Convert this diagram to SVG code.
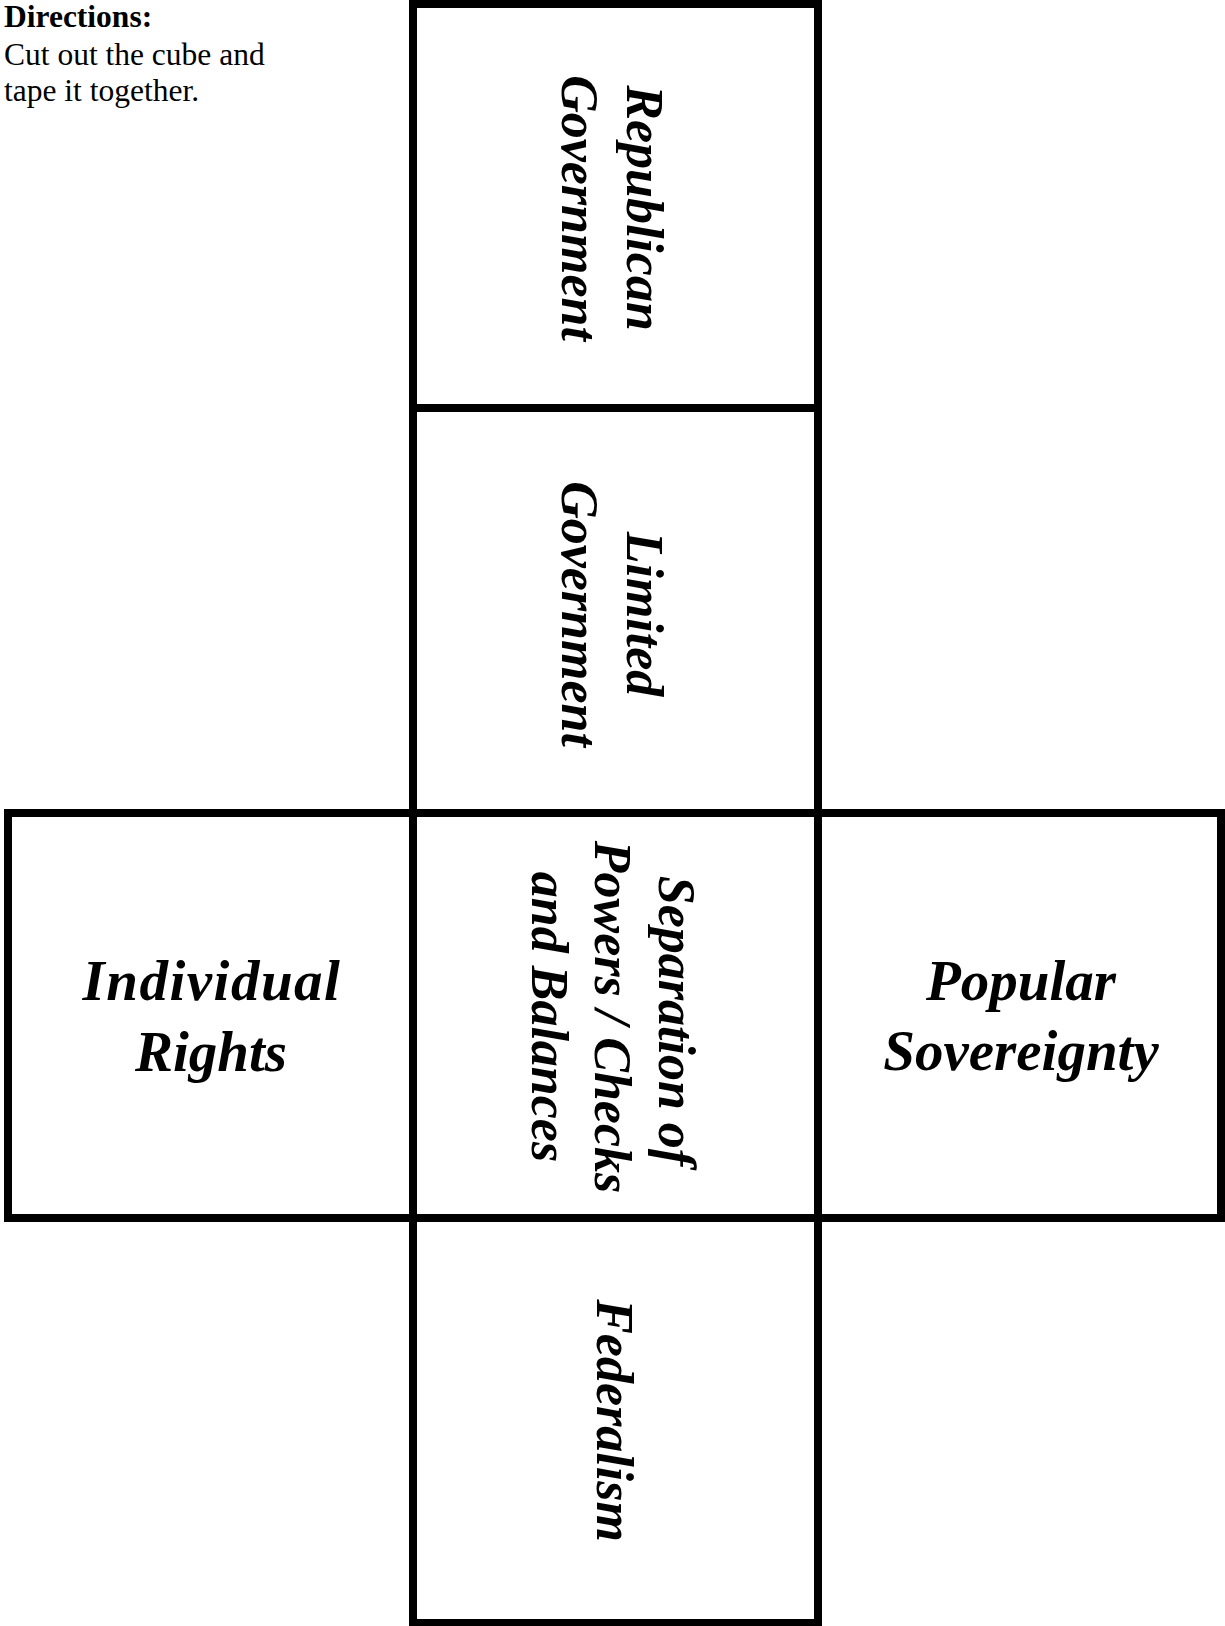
<svg xmlns="http://www.w3.org/2000/svg" width="1225" height="1626" viewBox="0 0 1225 1626">
  <style>
    .face { fill: #ffffff; stroke: #000000; stroke-width: 8; }
    .lbl { font-family: "Liberation Serif", "Times New Roman", serif; font-weight: bold; font-style: italic; fill: #000000; text-anchor: middle; }
    .v { font-size: 52px; }
    .h { font-size: 57px; }
    .dir { font-family: "Liberation Serif", "Times New Roman", serif; font-size: 31.5px; fill: #000000; }
  </style>
  <rect x="0" y="0" width="1225" height="1626" fill="#ffffff"/>

  <g id="directions">
    <text class="dir" x="4" y="27" font-weight="bold">Directions:</text>
    <text class="dir" x="4" y="64.5">Cut out the cube and</text>
    <text class="dir" x="4" y="101">tape it together.</text>
  </g>

  <g id="face-republican">
    <rect class="face" x="413" y="4" width="405" height="404"/>
    <g transform="translate(615.5 208) rotate(90)">
      <text class="lbl v" x="0" y="-11.5">Republican</text>
      <text class="lbl v" x="0" y="53.5">Government</text>
    </g>
  </g>

  <g id="face-limited">
    <rect class="face" x="413" y="408" width="405" height="405"/>
    <g transform="translate(615.5 614) rotate(90)">
      <text class="lbl v" x="0" y="-11.5">Limited</text>
      <text class="lbl v" x="0" y="53.5">Government</text>
    </g>
  </g>

  <g id="face-individual">
    <rect class="face" x="8" y="813" width="405" height="405"/>
    <text class="lbl h" x="212" y="1000" letter-spacing="1.5">Individual</text>
    <text class="lbl h" x="211" y="1071">Rights</text>
  </g>

  <g id="face-separation">
    <rect class="face" x="413" y="813" width="405" height="405"/>
    <g transform="translate(615.5 1017) rotate(90)">
      <text class="lbl v" x="4" y="-43.5">Separation of</text>
      <text class="lbl v" x="0" y="20.5">Powers / Checks</text>
      <text class="lbl v" x="0" y="84">and Balances</text>
    </g>
  </g>

  <g id="face-popular">
    <rect class="face" x="818" y="813" width="403" height="405"/>
    <text class="lbl h" x="1021" y="1000">Popular</text>
    <text class="lbl h" x="1021" y="1070">Sovereignty</text>
  </g>

  <g id="face-federalism">
    <rect class="face" x="413" y="1218" width="405" height="405"/>
    <g transform="translate(615.5 1420.5) rotate(90)">
      <text class="lbl v" x="0" y="18.5">Federalism</text>
    </g>
  </g>

  <g id="connectors"></g>
</svg>
